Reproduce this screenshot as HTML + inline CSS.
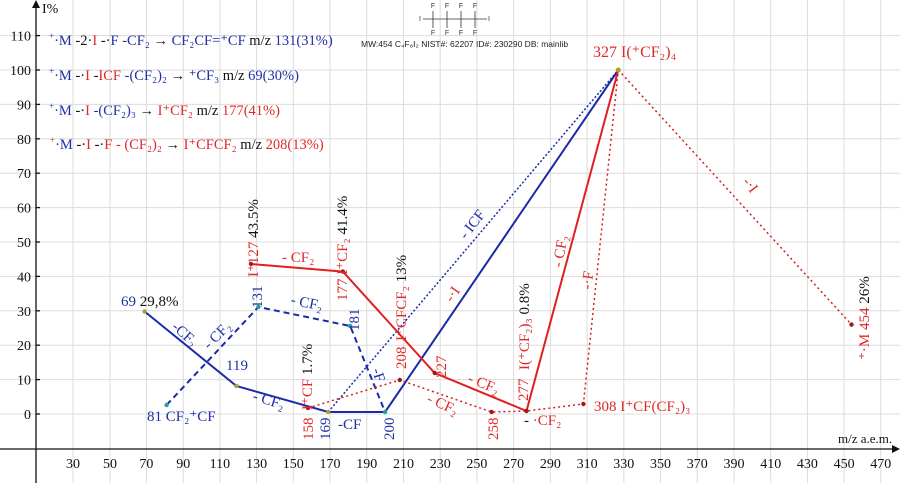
<!DOCTYPE html>
<html><head><meta charset="utf-8"><style>
html,body{margin:0;padding:0;background:#fff;}
svg{display:block;font-family:"Liberation Serif",serif;}
.b{fill:#1f2ea6}.r{fill:#e02828}.k{fill:#111}
</style></head><body>
<svg width="900" height="483" viewBox="0 0 900 483" xmlns="http://www.w3.org/2000/svg">
<g stroke="#dcdcdc" stroke-width="1">
<line x1="73" y1="0" x2="73" y2="483"/><line x1="110" y1="0" x2="110" y2="483"/><line x1="146.4" y1="0" x2="146.4" y2="483"/><line x1="183.2" y1="0" x2="183.2" y2="483"/><line x1="219.9" y1="0" x2="219.9" y2="483"/><line x1="256.6" y1="0" x2="256.6" y2="483"/><line x1="293.3" y1="0" x2="293.3" y2="483"/><line x1="330" y1="0" x2="330" y2="483"/><line x1="366.8" y1="0" x2="366.8" y2="483"/><line x1="403.5" y1="0" x2="403.5" y2="483"/><line x1="440.2" y1="0" x2="440.2" y2="483"/><line x1="476.9" y1="0" x2="476.9" y2="483"/><line x1="513.6" y1="0" x2="513.6" y2="483"/><line x1="550.4" y1="0" x2="550.4" y2="483"/><line x1="587.1" y1="0" x2="587.1" y2="483"/><line x1="623.8" y1="0" x2="623.8" y2="483"/><line x1="660.5" y1="0" x2="660.5" y2="483"/><line x1="697.2" y1="0" x2="697.2" y2="483"/><line x1="734" y1="0" x2="734" y2="483"/><line x1="770.7" y1="0" x2="770.7" y2="483"/><line x1="807.4" y1="0" x2="807.4" y2="483"/><line x1="844.1" y1="0" x2="844.1" y2="483"/><line x1="880.8" y1="0" x2="880.8" y2="483"/>
<line x1="0" y1="414" x2="900" y2="414"/><line x1="0" y1="379.6" x2="900" y2="379.6"/><line x1="0" y1="345.2" x2="900" y2="345.2"/><line x1="0" y1="310.8" x2="900" y2="310.8"/><line x1="0" y1="276.4" x2="900" y2="276.4"/><line x1="0" y1="242" x2="900" y2="242"/><line x1="0" y1="207.6" x2="900" y2="207.6"/><line x1="0" y1="173.2" x2="900" y2="173.2"/><line x1="0" y1="138.8" x2="900" y2="138.8"/><line x1="0" y1="104.4" x2="900" y2="104.4"/><line x1="0" y1="70" x2="900" y2="70"/><line x1="0" y1="35.6" x2="900" y2="35.6"/>
</g>
<g stroke="#111" stroke-width="1.3">
<line x1="36" y1="2" x2="36" y2="483"/><line x1="0" y1="449" x2="893" y2="449"/>
<line x1="36" y1="414" x2="40" y2="414"/><line x1="36" y1="379.6" x2="40" y2="379.6"/><line x1="36" y1="345.2" x2="40" y2="345.2"/><line x1="36" y1="310.8" x2="40" y2="310.8"/><line x1="36" y1="276.4" x2="40" y2="276.4"/><line x1="36" y1="242" x2="40" y2="242"/><line x1="36" y1="207.6" x2="40" y2="207.6"/><line x1="36" y1="173.2" x2="40" y2="173.2"/><line x1="36" y1="138.8" x2="40" y2="138.8"/><line x1="36" y1="104.4" x2="40" y2="104.4"/><line x1="36" y1="70" x2="40" y2="70"/><line x1="36" y1="35.6" x2="40" y2="35.6"/>
</g>
<polygon points="36,0 32,8 40,8" fill="#111"/><polygon points="900,449 892,445 892,453" fill="#111"/>
<g class="k" font-size="14" text-anchor="end">
<text x="31" y="419">0</text><text x="31" y="384.6">10</text><text x="31" y="350.2">20</text><text x="31" y="315.8">30</text><text x="31" y="281.4">40</text><text x="31" y="247">50</text><text x="31" y="212.6">60</text><text x="31" y="178.2">70</text><text x="31" y="143.8">80</text><text x="31" y="109.4">90</text><text x="31" y="75">100</text><text x="31" y="40.6">110</text>
</g>
<g class="k" font-size="14" text-anchor="middle">
<text x="73" y="468">30</text><text x="110" y="468">50</text><text x="146.4" y="468">70</text><text x="183.2" y="468">90</text><text x="219.9" y="468">110</text><text x="256.6" y="468">130</text><text x="293.3" y="468">150</text><text x="330" y="468">170</text><text x="366.8" y="468">190</text><text x="403.5" y="468">210</text><text x="440.2" y="468">230</text><text x="476.9" y="468">250</text><text x="513.6" y="468">270</text><text x="550.4" y="468">290</text><text x="587.1" y="468">310</text><text x="623.8" y="468">330</text><text x="660.5" y="468">350</text><text x="697.2" y="468">370</text><text x="734" y="468">390</text><text x="770.7" y="468">410</text><text x="807.4" y="468">430</text><text x="844.1" y="468">450</text><text x="880.8" y="468">470</text>
</g>
<text x="42" y="13" class="k" font-size="14">I%</text>
<text x="838" y="443" class="k" font-size="13">m/z a.e.m.</text>

<!-- legend -->
<g font-size="14.5">
<text x="49" y="45"><tspan class="b" font-size="9" dy="-6">+</tspan><tspan class="b" dy="6">·M </tspan><tspan class="k">-2·</tspan><tspan class="r">I</tspan><tspan class="k"> -·</tspan><tspan class="b">F -CF₂ </tspan><tspan class="k">→ </tspan><tspan class="b">CF₂CF=⁺CF </tspan><tspan class="k">m/z </tspan><tspan class="b">131(31%)</tspan></text>
<text x="49" y="80"><tspan class="b" font-size="9" dy="-6">+</tspan><tspan class="b" dy="6">·M </tspan><tspan class="k">-·</tspan><tspan class="r">I</tspan><tspan class="k"> -</tspan><tspan class="r">ICF </tspan><tspan class="b">-(CF₂)₂ </tspan><tspan class="k"> → </tspan><tspan class="b">⁺CF₃ </tspan><tspan class="k">m/z </tspan><tspan class="b">69(30%)</tspan></text>
<text x="49" y="115"><tspan class="b" font-size="9" dy="-6">+</tspan><tspan class="b" dy="6">·M </tspan><tspan class="k">-·</tspan><tspan class="r">I </tspan><tspan class="b"> -(CF₂)₃ </tspan><tspan class="k">→ </tspan><tspan class="r">I⁺CF₂ </tspan><tspan class="k">m/z </tspan><tspan class="r">177(41%)</tspan></text>
<text x="50" y="149"><tspan class="r" font-size="9" dy="-6">+</tspan><tspan class="b" dy="6">·M </tspan><tspan class="k">-·</tspan><tspan class="r">I </tspan><tspan class="k"> -·</tspan><tspan class="r">F - (CF₂)₂ </tspan><tspan class="k">→ </tspan><tspan class="r">I⁺CFCF₂ </tspan><tspan class="k">m/z </tspan><tspan class="r">208(13%)</tspan></text>
</g>

<!-- structure -->
<g stroke="#333" stroke-width="0.8">
<line x1="423" y1="19" x2="487" y2="19"/>
<line x1="433" y1="11" x2="433" y2="28"/><line x1="447" y1="11" x2="447" y2="28"/><line x1="461" y1="11" x2="461" y2="28"/><line x1="475" y1="11" x2="475" y2="28"/>
</g>
<g font-family="Liberation Sans,sans-serif" font-size="7" fill="#333" text-anchor="middle">
<text x="433" y="8">F</text><text x="447" y="8">F</text><text x="461" y="8">F</text><text x="475" y="8">F</text>
<text x="433" y="35">F</text><text x="447" y="35">F</text><text x="461" y="35">F</text><text x="475" y="35">F</text>
<text x="420" y="21">I</text><text x="489" y="21">I</text>
</g>
<text x="361" y="47" font-family="Liberation Sans,sans-serif" font-size="8.5" fill="#222">MW:454 C₄F₈I₂ NIST#: 62207 ID#: 230290 DB: mainlib</text>

<!-- lines -->
<g fill="none" stroke-width="2">
<polyline points="144.6,311.5 236.4,386 328.2,412 385.1,412 618.3,70" stroke="#1a2aa8"/>
<polyline points="166.6,405 258.4,307 350.2,326 385.1,412" stroke="#1a2aa8" stroke-dasharray="6,4"/>
<line x1="328.2" y1="412" x2="618.3" y2="70" stroke="#1a2aa8" stroke-width="1.5" stroke-dasharray="2,2"/>
<polyline points="251,264 342.9,271.6 434.7,373 526.5,411 618.3,70" stroke="#e02020"/>
<polyline points="308,408 399.8,380 491.6,412 526.5,411 583.4,404 618.3,70" stroke="#d02020" stroke-width="1.5" stroke-dasharray="2,3"/>
<line x1="618.3" y1="70" x2="851.5" y2="324.6" stroke="#d02020" stroke-width="1.5" stroke-dasharray="2,3"/>
</g>
<g>
<circle cx="144.6" cy="311.5" r="2.2" fill="#aaa030"/><circle cx="236.4" cy="386" r="2.2" fill="#aaa030"/><circle cx="328.2" cy="412" r="2.2" fill="#aaa030"/><circle cx="618.3" cy="70" r="2.5" fill="#aaa030"/>
<circle cx="166.6" cy="405" r="2.2" fill="#20a0a0"/><circle cx="258.4" cy="307" r="2.2" fill="#20a0a0"/><circle cx="350.2" cy="326" r="2.2" fill="#20a0a0"/><circle cx="385.1" cy="412" r="2.2" fill="#20a0a0"/>
<circle cx="251" cy="264" r="2.2" fill="#a01818"/><circle cx="342.9" cy="271.6" r="2.2" fill="#a01818"/><circle cx="434.7" cy="373" r="2.2" fill="#a01818"/><circle cx="526.5" cy="411" r="2.2" fill="#a01818"/><circle cx="308" cy="408" r="2.2" fill="#a01818"/><circle cx="399.8" cy="380" r="2.2" fill="#a01818"/><circle cx="491.6" cy="412" r="2.2" fill="#a01818"/><circle cx="583.4" cy="404" r="2.2" fill="#a01818"/><circle cx="851.5" cy="324.6" r="2.2" fill="#a01818"/>
</g>

<!-- labels -->
<g font-size="15">
<text x="121" y="306"><tspan class="b">69 </tspan><tspan class="k">29,8%</tspan></text>
<text x="147" y="421" class="b">81 CF₂⁺CF</text>
<text x="226" y="370" class="b">119</text>
<text x="593" y="57" class="r" font-size="16">327  I(⁺CF₂)₄</text>
<text x="594" y="411" class="r">308 I⁺CF(CF₂)₃</text>
<text x="338" y="429" class="b">-CF</text>
<text x="282" y="262" class="r">- CF₂</text>
<text transform="translate(290,304) rotate(12)" class="b">- CF₂</text>
<text transform="translate(252,400) rotate(17)" class="b">- CF₂</text>
<text transform="translate(171,328) rotate(42)" class="b">-CF₂</text>
<text transform="translate(209,350) rotate(-45)" class="b">- CF₂</text>
<text transform="translate(372,370) rotate(72)" class="b">-F</text>
<text transform="translate(466,240) rotate(-52)" class="b">- ICF</text>
<text transform="translate(452,303) rotate(-55)" class="r">-·I</text>
<text transform="translate(467,382) rotate(22)" class="r">- CF₂</text>
<text transform="translate(426,402) rotate(24)" class="r">- CF₂</text>
<text x="524" y="425"><tspan class="k">- </tspan><tspan class="r">·CF₂</tspan></text>
<text transform="translate(562,268) rotate(-80)" class="r">- CF₂</text>
<text transform="translate(591,290) rotate(-82)" class="r">-·F</text>
<text transform="translate(742,182) rotate(52)" class="r">-·I</text>
<!-- vertical -->
<text transform="translate(258,277) rotate(-90)"><tspan class="r">I⁺127 </tspan><tspan class="k">43.5%</tspan></text>
<text transform="translate(347,301) rotate(-90)"><tspan class="r">177 I⁺CF₂ </tspan><tspan class="k">41.4%</tspan></text>
<text transform="translate(262,308) rotate(-90)" class="b">131</text>
<text transform="translate(359,331) rotate(-90)" class="b">181</text>
<text transform="translate(312,410) rotate(-90)"><tspan class="r">I⁺CF </tspan><tspan class="k">1.7%</tspan></text>
<text transform="translate(313,440) rotate(-90)" class="r">158</text>
<text transform="translate(330,440) rotate(-90)" class="b">169</text>
<text transform="translate(394,440) rotate(-90)" class="b">200</text>
<text transform="translate(406,369) rotate(-90)" class="r">208</text>
<text transform="translate(406,341) rotate(-90)"><tspan class="r">I⁺CFCF₂ </tspan><tspan class="k">13%</tspan></text>
<text transform="translate(446,378) rotate(-90)" class="r">227</text>
<text transform="translate(528,401) rotate(-90)" class="r">277</text>
<text transform="translate(498,440) rotate(-90)" class="r">258</text>
<text transform="translate(529,370) rotate(-90)"><tspan class="r">I(⁺CF₂)₃ </tspan><tspan class="k">0.8%</tspan></text>
<text transform="translate(869,360) rotate(-90)"><tspan class="r">⁺·M 454 </tspan><tspan class="k">26%</tspan></text>
</g>
</svg>
</body></html>
